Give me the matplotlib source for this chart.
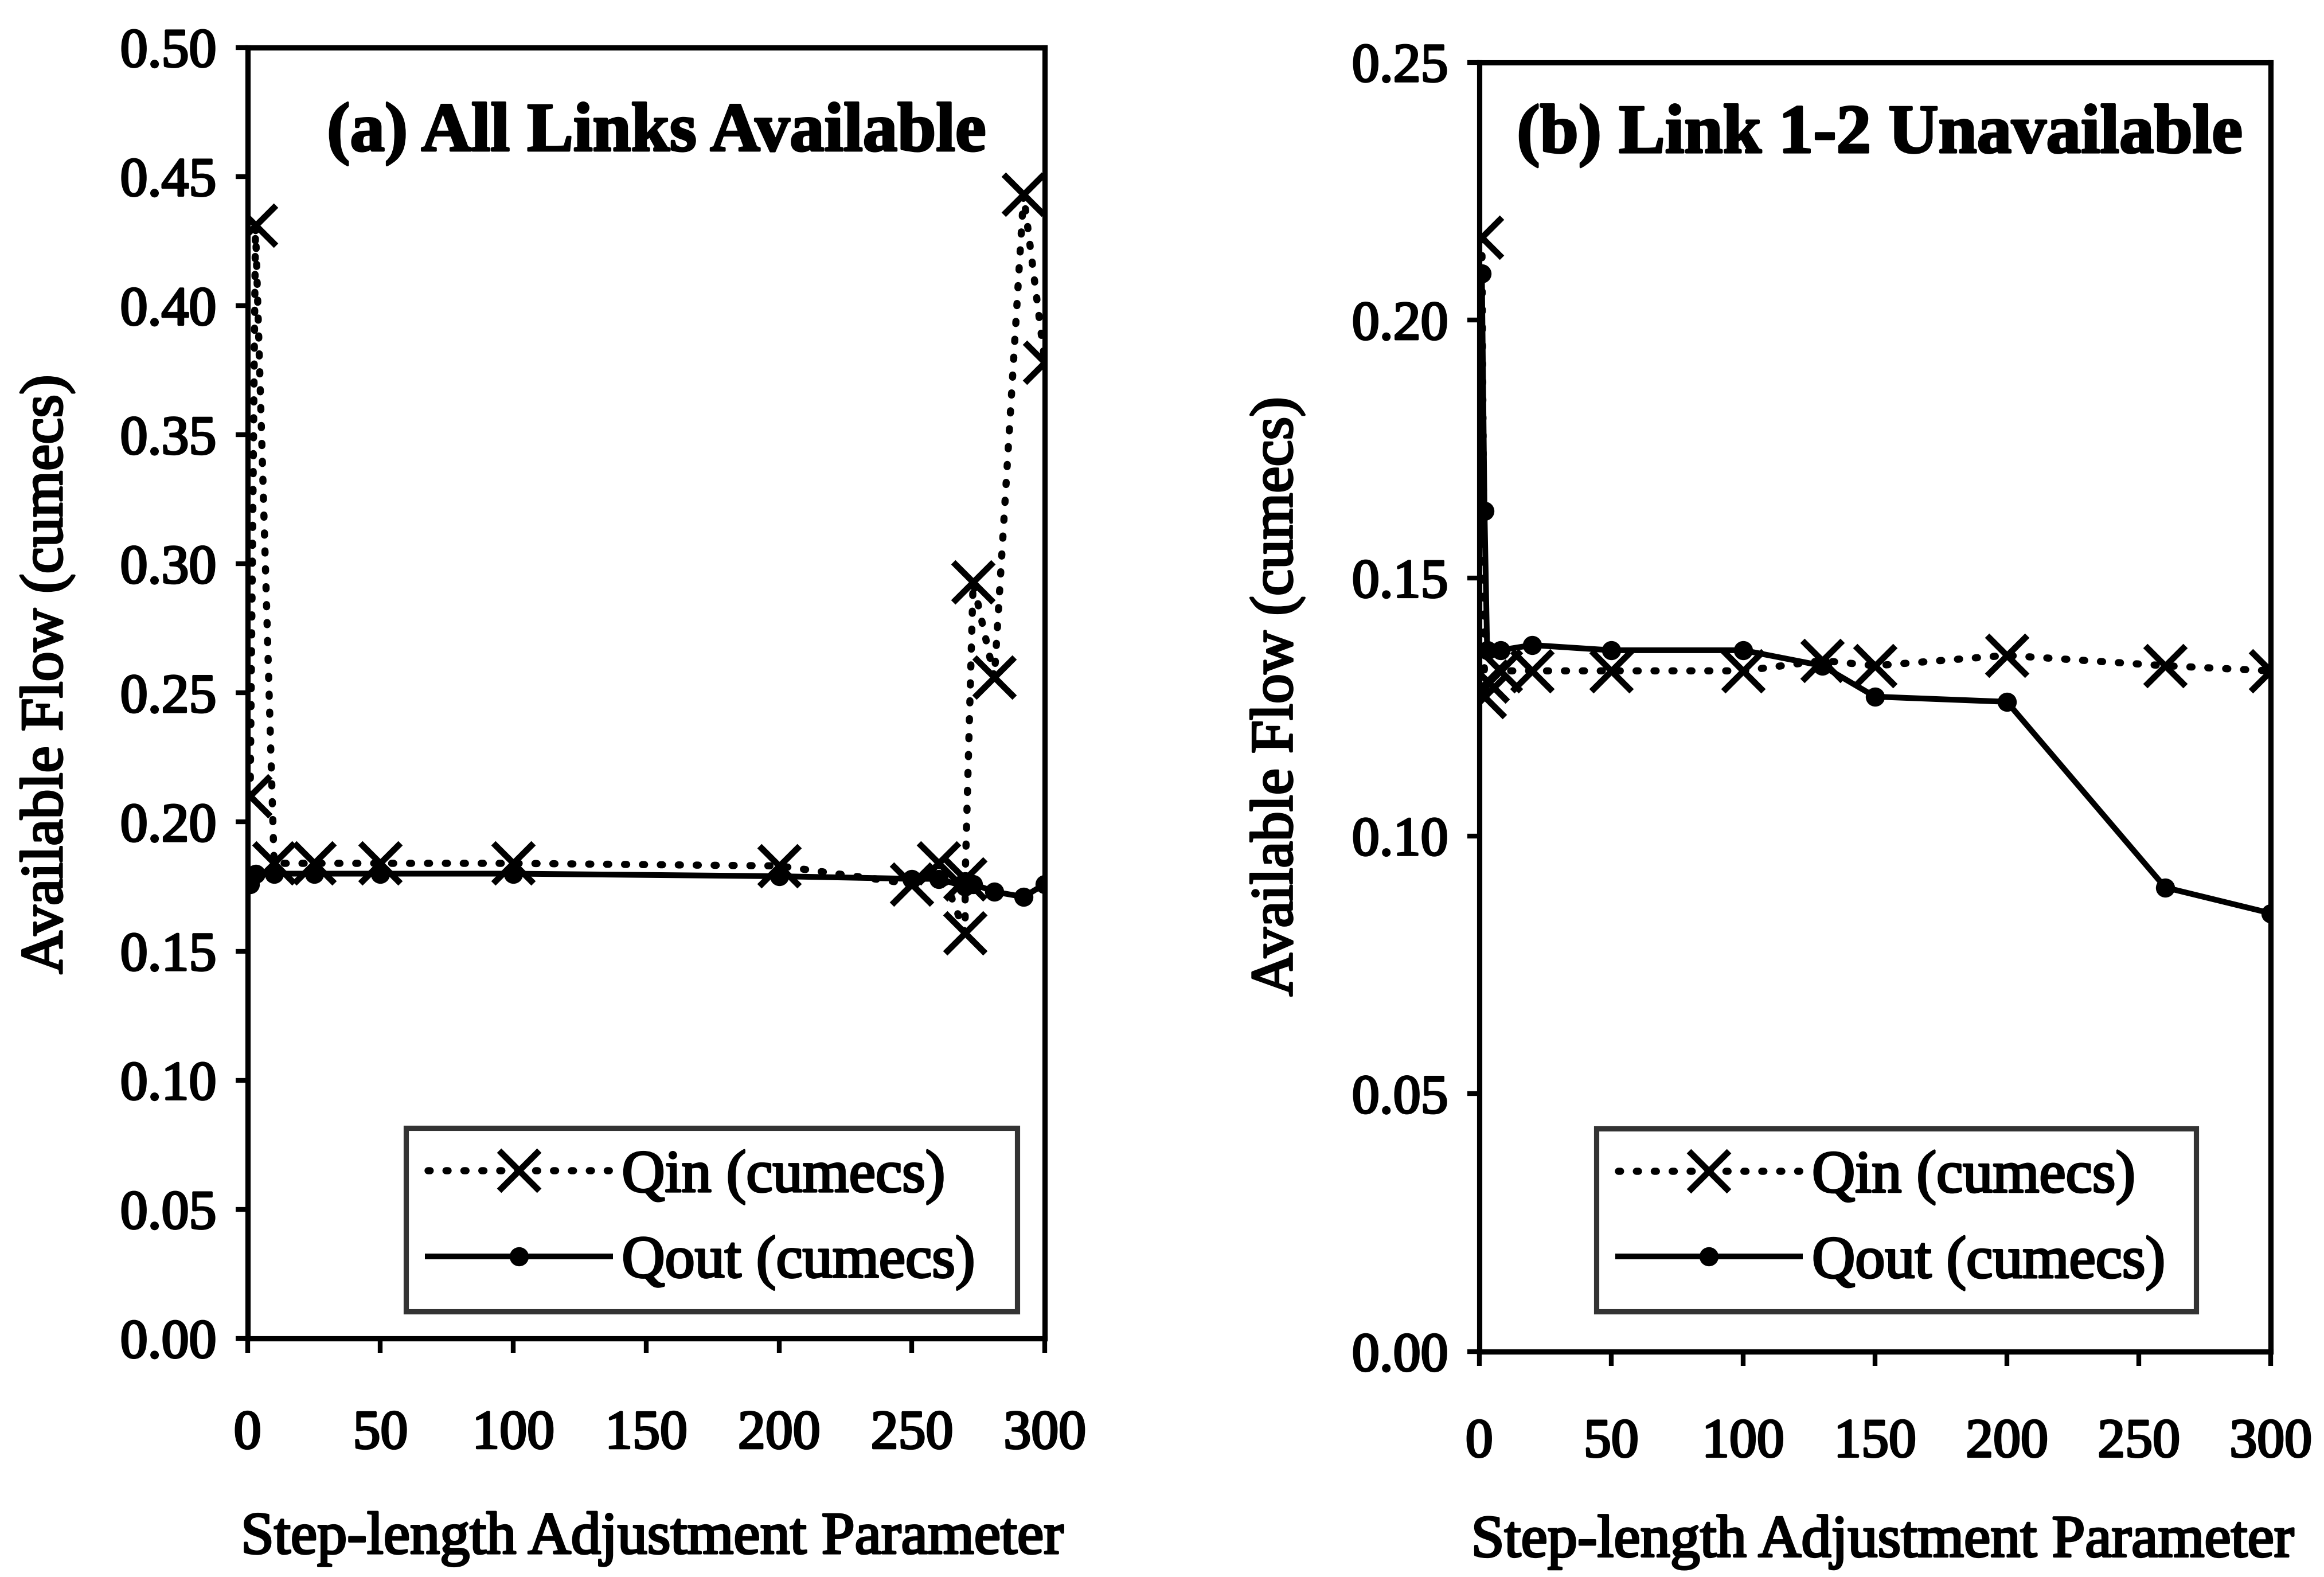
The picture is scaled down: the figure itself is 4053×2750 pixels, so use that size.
import matplotlib
matplotlib.use('Agg')
import matplotlib.pyplot as plt
import matplotlib.patheffects as pe
from matplotlib.ticker import MultipleLocator, FormatStrFormatter

plt.rcParams['font.family'] = ['Liberation Serif', 'DejaVu Serif']

# ---- data: panel (a) All Links Available ----
param_a = [1, 3, 10, 25, 50, 100, 200, 250, 260, 270, 270, 273, 281, 292, 300]
qin_a = [0.210, 0.431, 0.184, 0.184, 0.184, 0.184, 0.183, 0.176, 0.184,
         0.157, 0.178, 0.293, 0.256, 0.443, 0.378]
qout_a = [0.176, 0.180, 0.180, 0.180, 0.180, 0.180, 0.179, 0.178, 0.178,
          0.175, 0.177, 0.176, 0.173, 0.171, 0.176]

# ---- data: panel (b) Link 1-2 Unavailable ----
param_b = [1, 2, 3, 8, 20, 50, 100, 130, 150, 200, 260, 300]
qin_b = [0.216, 0.127, 0.130, 0.132, 0.132, 0.132, 0.132, 0.134, 0.133,
         0.135, 0.133, 0.132]
qout_b = [0.209, 0.163, 0.136, 0.136, 0.137, 0.136, 0.136, 0.133, 0.127,
          0.126, 0.090, 0.085]

titles = ['(a) All Links Available', '(b) Link 1-2 Unavailable']
xlabel = 'Step-length Adjustment Parameter'
ylabel = 'Available Flow (cumecs)'
legend_labels = ['Qin (cumecs)', 'Qout (cumecs)']
xticks = [0, 50, 100, 150, 200, 250, 300]

thick = [pe.withStroke(linewidth=0.9, foreground='black')]

fig = plt.figure(figsize=(13.51, 9.1667), dpi=300)
ax_a = fig.add_axes([0.1065, 0.1513, 0.3431, 0.8186])
ax_b = fig.add_axes([0.6365, 0.1429, 0.3406, 0.8176])

specs = [
    (ax_a, param_a, qin_a, qout_a, 0.50, (0.199, 0.021, 0.766, 0.141),
     (0.513, 0.933)),
    (ax_b, param_b, qin_b, qout_b, 0.25, (0.148, 0.031, 0.758, 0.141),
     (0.506, 0.943)),
]

for i, (ax, px, qi, qo, ymax, legbox, tpos) in enumerate(specs):
    ax.plot(px, qi, color='black', linestyle=(0, (0.3, 2.2)), linewidth=3.0,
            dash_capstyle='round', marker='x', markersize=17,
            markeredgewidth=2.6, label=legend_labels[0], zorder=3)
    ax.plot(px, qo, color='black', linestyle='-', linewidth=2.4,
            marker='o', markersize=7, label=legend_labels[1], zorder=4)
    ax.set_xlim(0, 300)
    ax.set_ylim(0, ymax)
    ax.set_xticks(xticks)
    ax.yaxis.set_major_locator(MultipleLocator(0.05))
    ax.yaxis.set_major_formatter(FormatStrFormatter('%.2f'))
    for s in ax.spines.values():
        s.set_linewidth(2.2)
        s.set_color('black')
    ax.tick_params(axis='x', direction='out', length=6, width=2.0,
                   labelsize=23, pad=24 if i == 0 else 22)
    ax.tick_params(axis='y', direction='out', length=5, width=2.0,
                   labelsize=23, pad=8)
    for lab in ax.get_xticklabels() + ax.get_yticklabels():
        lab.set_path_effects(thick)
    ax.text(tpos[0], tpos[1], titles[i], transform=ax.transAxes,
            ha='center', va='center', fontsize=29, fontweight='bold',
            path_effects=thick)
    leg = ax.legend(loc='lower left', bbox_to_anchor=legbox, mode='expand',
                    fontsize=25, frameon=True, fancybox=False,
                    edgecolor='black', handlelength=3.05, handletextpad=0.2,
                    borderpad=0.36, labelspacing=0.52, borderaxespad=0)
    leg.get_frame().set_linewidth(2.2)
    for t in leg.get_texts():
        t.set_path_effects(thick)

for x, y, s, rot in [(0.2806, 0.015, xlabel, 0), (0.81, 0.013, xlabel, 0)]:
    fig.text(x, y, s, ha='center', va='baseline', fontsize=25,
             path_effects=thick)
for x, y in [(0.0204, 0.5724), (0.5497, 0.5583)]:
    fig.text(x, y, ylabel, ha='center', va='center', rotation=90,
             fontsize=25, path_effects=thick)

fig.savefig('out.png', dpi=300, facecolor='white')
